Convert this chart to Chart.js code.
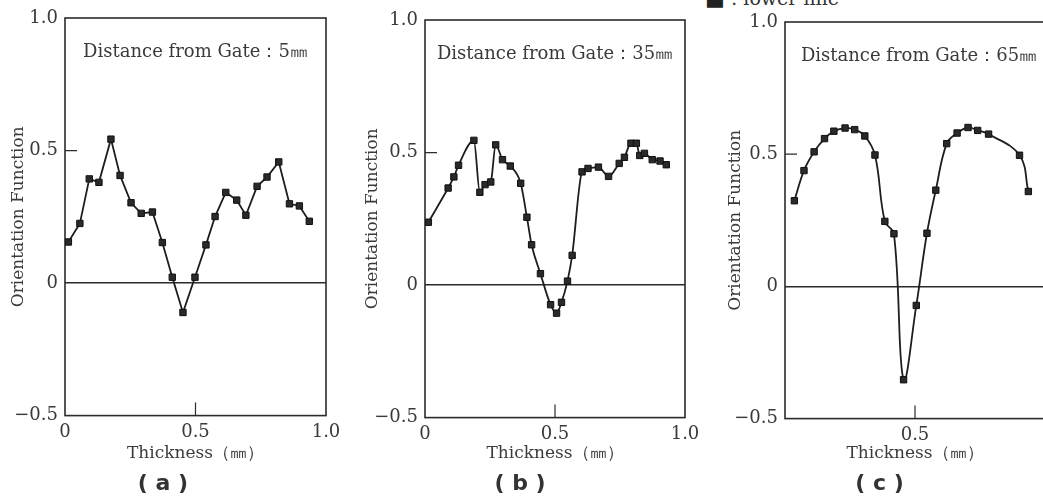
<!DOCTYPE html>
<html>
<head>
<meta charset="utf-8">
<script src="https://cdn.jsdelivr.net/npm/chart.js@4"></script>
<style>
  html, body { margin: 0; padding: 0; background: #fff; overflow: hidden; width: 1043px; height: 497px; }
  .panel { position: absolute; top: 0; width: 345px; height: 497px; }
  .key { position: absolute; left: 705px; top: -14px; font: 19px 'DejaVu Serif', serif; line-height: 20px; color: #333; white-space: nowrap; }
  .key span { font: 21px 'DejaVu Sans', sans-serif; color: #222; }
</style>
</head>
<body>
<div class="key"><span>■</span> : lower line</div>
<div class="panel" style="left:0px"><canvas id="chartA"></canvas></div>
<div class="panel" style="left:355px"><canvas id="chartB"></canvas></div>
<div class="panel" style="left:714px"><canvas id="chartC"></canvas></div>
<script>
// (a) distance from gate 5 mm
const thicknessA = [0.013, 0.057, 0.093, 0.130, 0.176, 0.211, 0.253, 0.292, 0.335, 0.373, 0.411, 0.452,
                    0.498, 0.540, 0.575, 0.616, 0.658, 0.693, 0.736, 0.774, 0.819, 0.860, 0.898, 0.936];
const orientationA = [0.155, 0.225, 0.393, 0.380, 0.543, 0.406, 0.303, 0.263, 0.268, 0.153, 0.022, -0.111,
                      0.022, 0.144, 0.251, 0.342, 0.313, 0.256, 0.365, 0.400, 0.457, 0.299, 0.291, 0.233];

// (b) distance from gate 35 mm
const thicknessB = [0.013, 0.089, 0.111, 0.129, 0.188, 0.211, 0.231, 0.253, 0.272, 0.298, 0.328, 0.368,
                    0.392, 0.410, 0.444, 0.483, 0.506, 0.525, 0.548, 0.566, 0.604, 0.627, 0.667, 0.706,
                    0.747, 0.767, 0.792, 0.813, 0.826, 0.844, 0.874, 0.904, 0.928];
const orientationB = [0.237, 0.366, 0.408, 0.452, 0.546, 0.350, 0.379, 0.389, 0.529, 0.473, 0.449, 0.384,
                      0.256, 0.152, 0.043, -0.074, -0.106, -0.065, 0.015, 0.112, 0.427, 0.440, 0.445, 0.410,
                      0.459, 0.482, 0.535, 0.535, 0.489, 0.497, 0.473, 0.468, 0.454];

// (c) distance from gate 65 mm
const thicknessC = [0.036, 0.073, 0.112, 0.152, 0.188, 0.231, 0.268, 0.307, 0.346, 0.384, 0.419,
                    0.456, 0.505, 0.546, 0.580, 0.622, 0.662, 0.704, 0.741, 0.783, 0.902, 0.936];
const orientationC = [0.324, 0.438, 0.509, 0.559, 0.587, 0.599, 0.593, 0.569, 0.497, 0.246, 0.199,
                      -0.353, -0.072, 0.201, 0.364, 0.540, 0.580, 0.601, 0.590, 0.576, 0.496, 0.359];

// axis ticks
const xTicksAB = [0, 0.5, 1.0];
const xTickLabelsAB = ['0', '0.5', '1.0'];
const xTicksC = [0.5];
const xTickLabelsC = ['0.5'];
const yTicks = [1.0, 0.5, 0, -0.5];
const yTickLabels = ['1.0', '0.5', '0', '\u22120.5'];
const innerTicks = [0.5]; // short inward tick marks

const textColor = '#3a3a3a';
const lineColor = '#1e1e1e';
Chart.defaults.font.family = "'DejaVu Serif', serif";

// frame, inward tick marks and the "Distance from Gate" label
const panelDecor = {
  id: 'panelDecor',
  beforeDatasetsDraw(chart, args, opts) {
    const { ctx, chartArea: a, scales } = chart;
    ctx.save();
    ctx.strokeStyle = '#2b2b2b';
    ctx.lineWidth = 1.6;
    ctx.strokeRect(a.left, a.top, a.right - a.left, a.bottom - a.top);
    ctx.lineWidth = 1.2;
    ctx.beginPath();
    innerTicks.forEach(v => {
      const tx = scales.x.getPixelForValue(v);
      const ty = scales.y.getPixelForValue(v);
      ctx.moveTo(tx, a.bottom);
      ctx.lineTo(tx, a.bottom - 13);
      ctx.moveTo(a.left, ty);
      ctx.lineTo(a.left + 12, ty);
    });
    ctx.stroke();
    ctx.fillStyle = textColor;
    ctx.font = "18px 'DejaVu Serif', serif";
    ctx.textAlign = 'center';
    ctx.textBaseline = 'middle';
    ctx.fillText(opts.text, (a.left + a.right) / 2 + opts.shift, a.top + 34);
    ctx.restore();
  }
};

function makePanel(id, p) {
  const ctx = document.getElementById(id).getContext('2d');
  return new Chart(ctx, {
    type: 'line',
    data: {
      datasets: [{
        data: p.xs.map((x, i) => ({ x: x, y: p.ys[i] })),
        borderColor: lineColor,
        borderWidth: 1.8,
        pointStyle: 'rect',
        pointRadius: 4.5,
        pointBackgroundColor: '#2a2a2a',
        pointBorderColor: '#111',
        pointBorderWidth: 1,
        tension: p.tension,
        cubicInterpolationMode: p.mode
      }]
    },
    options: {
      responsive: true,
      maintainAspectRatio: false,
      animation: false,
      layout: { padding: { top: p.top, right: p.right, bottom: 0, left: 0 } },
      plugins: {
        legend: { display: false },
        tooltip: { enabled: false },
        title: {
          display: true,
          position: 'bottom',
          text: p.tag,
          color: '#333',
          font: { family: "'DejaVu Sans', sans-serif", size: 22, weight: 'bold', lineHeight: 1.2 },
          padding: { top: 3, bottom: 0 }
        },
        panelDecor: { text: p.inner, shift: p.innerShift }
      },
      scales: {
        x: {
          type: 'linear',
          min: 0,
          max: 1,
          afterBuildTicks: s => { s.ticks = p.xTicks.map(v => ({ value: v })); },
          afterFit: s => { s.height = p.xHeight; s.paddingLeft = 0; s.paddingRight = 0; },
          grid: { display: false, drawTicks: false },
          border: { display: false },
          ticks: {
            autoSkip: false,
            maxRotation: 0,
            padding: 6,
            color: textColor,
            font: { size: 18 },
            callback: (v, i) => p.xLabels[i]
          },
          title: {
            display: true,
            text: 'Thickness（㎜）',
            color: textColor,
            font: { size: 17, lineHeight: 1.2 },
            padding: { top: 0, bottom: 4 }
          }
        },
        y: {
          min: -0.5,
          max: 1.0,
          afterBuildTicks: s => { s.ticks = yTicks.map(v => ({ value: v })); },
          afterFit: s => { s.width = p.yWidth; s.paddingTop = 0; s.paddingBottom = 0; },
          grid: {
            drawTicks: false,
            lineWidth: 1.5,
            color: c => (c.tick && c.tick.value === 0) ? '#2b2b2b' : 'rgba(0,0,0,0)'
          },
          border: { display: false },
          ticks: {
            autoSkip: false,
            padding: 7,
            color: textColor,
            font: { size: 18 },
            callback: (v, i) => yTickLabels[i]
          },
          title: {
            display: true,
            text: 'Orientation Function',
            color: textColor,
            font: { size: 17, lineHeight: 1.2 },
            padding: { top: p.yTitlePad, bottom: 0 }
          }
        }
      }
    },
    plugins: [panelDecor]
  });
}

makePanel('chartA', {
  xs: thicknessA, ys: orientationA, tension: 0, mode: 'default',
  xTicks: xTicksAB, xLabels: xTickLabelsAB,
  inner: 'Distance from Gate：5㎜', innerShift: 0, tag: '( a )',
  top: 18, right: 19, yWidth: 65, xHeight: 52, yTitlePad: 8
});
makePanel('chartB', {
  xs: thicknessB, ys: orientationB, tension: 0.3, mode: 'monotone',
  xTicks: xTicksAB, xLabels: xTickLabelsAB,
  inner: 'Distance from Gate：35㎜', innerShift: 0, tag: '( b )',
  top: 20, right: 15, yWidth: 70, xHeight: 50, yTitlePad: 7
});
makePanel('chartC', {
  xs: thicknessC, ys: orientationC, tension: 0.4, mode: 'default',
  xTicks: xTicksC, xLabels: xTickLabelsC,
  inner: 'Distance from Gate：65㎜', innerShift: 4, tag: '( c )',
  top: 22, right: 14, yWidth: 71, xHeight: 49, yTitlePad: 11
});
</script>
</body>
</html>
